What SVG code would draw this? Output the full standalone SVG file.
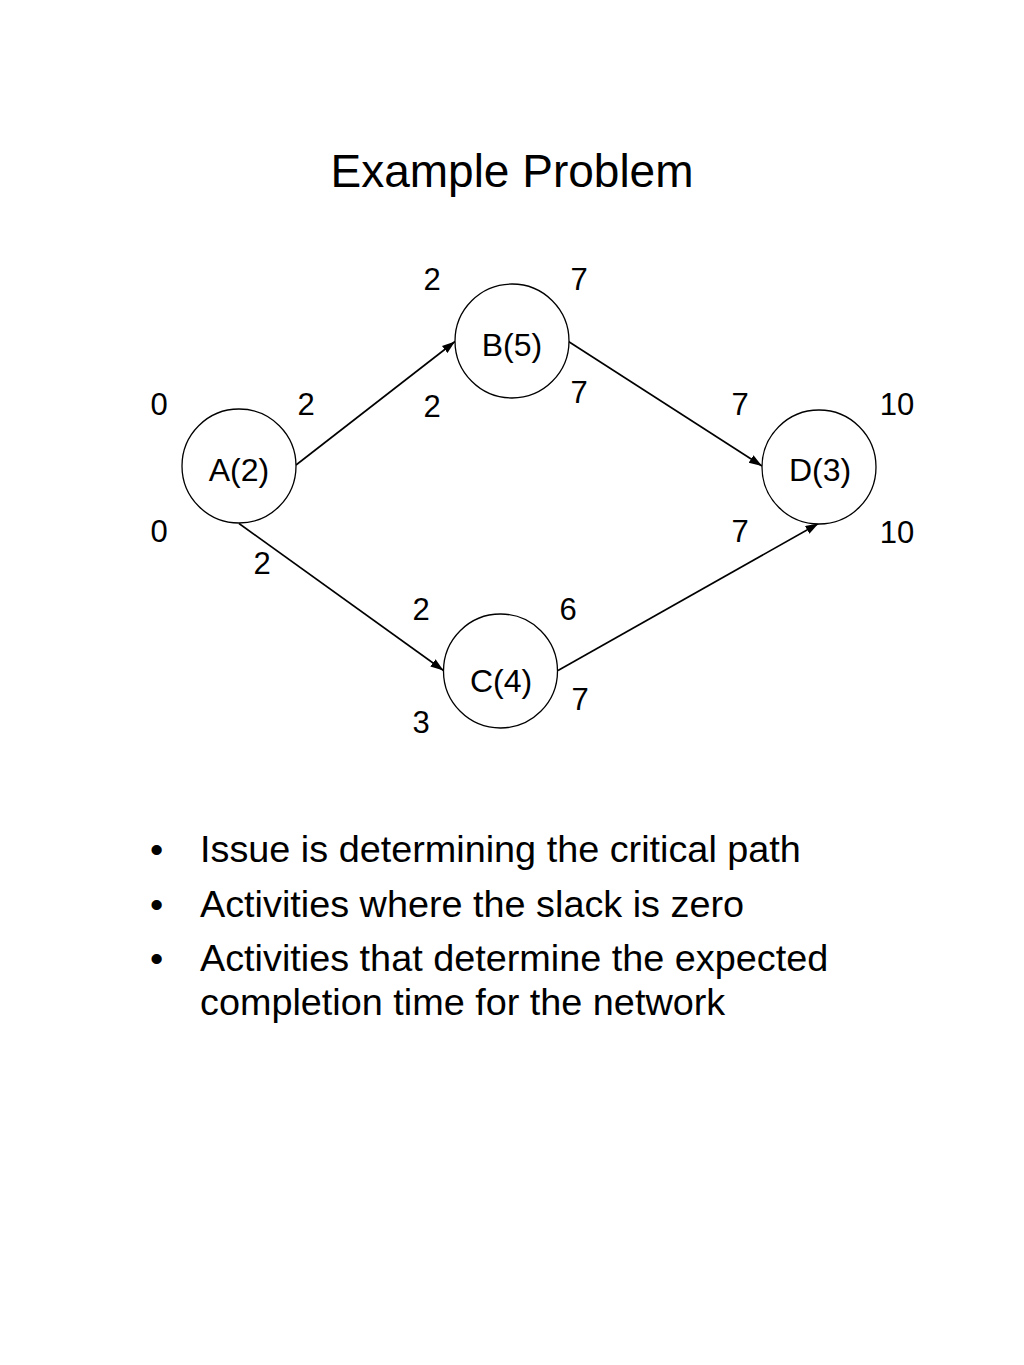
<svg xmlns="http://www.w3.org/2000/svg" width="1024" height="1365" viewBox="0 0 1024 1365">
<style>
text{font-family:"Liberation Sans",Arial,sans-serif;fill:#000}
.title{font-size:46px;text-anchor:middle}
.num{font-size:31px;text-anchor:middle}
.lbl{font-size:32px;text-anchor:middle}
.bul{font-size:37.8px}
.node circle{fill:#fff;stroke:#000;stroke-width:1.3}
.edge{stroke:#000;stroke-width:1.6;fill:none;marker-end:url(#arr)}
</style>
<defs>
<marker id="arr" markerUnits="userSpaceOnUse" markerWidth="14" markerHeight="10" refX="13" refY="4.5" orient="auto">
<path d="M0,0 L13,4.5 L0,9 z" fill="#000"/>
</marker>
</defs>
<rect width="1024" height="1365" fill="#fff"/>
<text class="title" x="512" y="187">Example Problem</text>
<g id="connectors">
<line class="edge" x1="296" y1="465" x2="455" y2="341.5"/>
<line class="edge" x1="568.5" y1="341.5" x2="762" y2="466"/>
<line class="edge" x1="239" y1="523.5" x2="443.5" y2="670.5"/>
<line class="edge" x1="558" y1="670.5" x2="818.5" y2="523.5"/>
</g>
<g id="nodeA" class="node">
<circle cx="239" cy="466" r="57"/>
<text class="lbl" x="239" y="481">A(2)</text>
</g>
<g id="nodeB" class="node">
<circle cx="512" cy="341" r="57"/>
<text class="lbl" x="512" y="356">B(5)</text>
</g>
<g id="nodeC" class="node">
<circle cx="500.5" cy="671" r="57"/>
<text class="lbl" x="501" y="692">C(4)</text>
</g>
<g id="nodeD" class="node">
<circle cx="819" cy="467" r="57"/>
<text class="lbl" x="820" y="481">D(3)</text>
</g>
<g id="numbers">
<text class="num" x="432" y="290">2</text>
<text class="num" x="579" y="290">7</text>
<text class="num" x="159" y="415">0</text>
<text class="num" x="306" y="415">2</text>
<text class="num" x="432" y="417">2</text>
<text class="num" x="579" y="403">7</text>
<text class="num" x="159" y="542">0</text>
<text class="num" x="262" y="574">2</text>
<text class="num" x="421" y="620">2</text>
<text class="num" x="568" y="620">6</text>
<text class="num" x="580" y="710">7</text>
<text class="num" x="421" y="733">3</text>
<text class="num" x="740" y="415">7</text>
<text class="num" x="897" y="415">10</text>
<text class="num" x="740" y="542">7</text>
<text class="num" x="897" y="543">10</text>
</g>
<g id="bullets">
<text class="bul" x="150" y="862">•</text>
<text class="bul" x="200" y="862">Issue is determining the critical path</text>
<text class="bul" x="150" y="917">•</text>
<text class="bul" x="200" y="917">Activities where the slack is zero</text>
<text class="bul" x="150" y="971">•</text>
<text class="bul" x="200" y="971">Activities that determine the expected</text>
<text class="bul" x="200" y="1015">completion time for the network</text>
</g>
</svg>
